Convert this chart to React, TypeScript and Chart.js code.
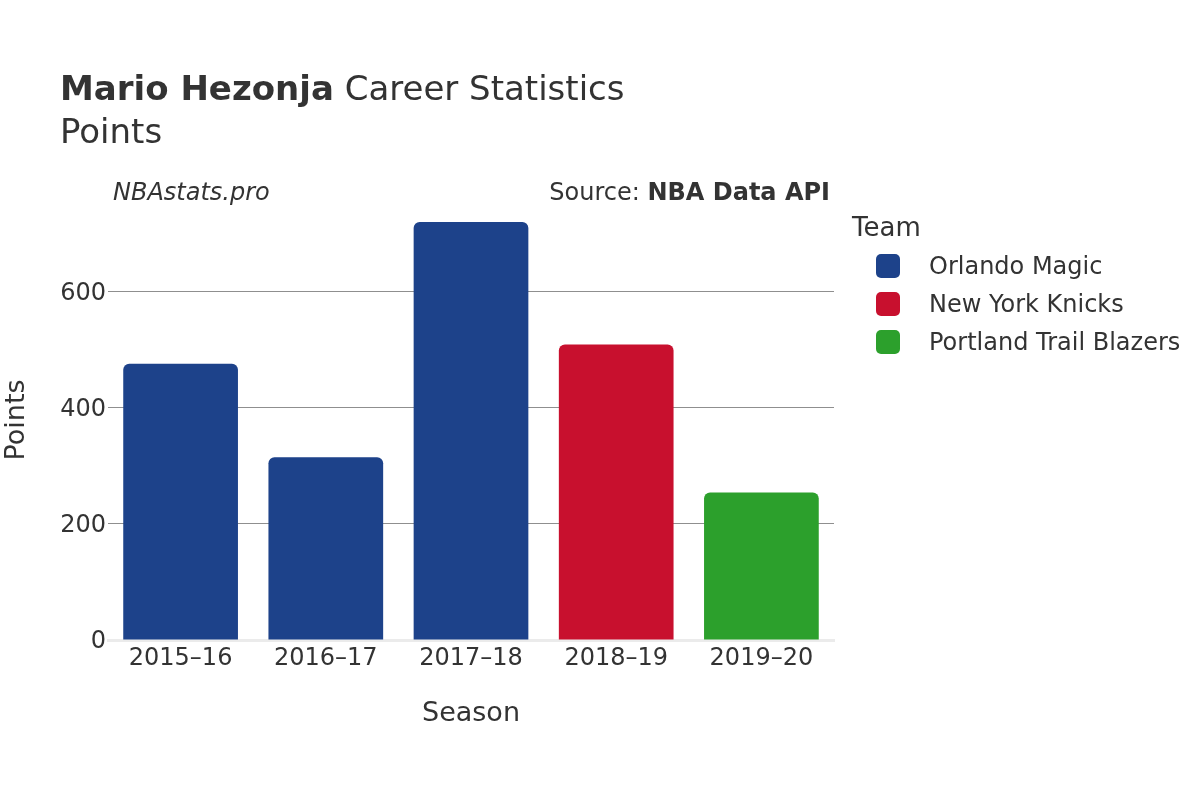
import React, { useEffect, useRef } from "react";
import { Chart, registerables } from "chart.js";

Chart.register(...registerables);

const seasons = ["2015–16", "2016–17", "2017–18", "2018–19", "2019–20"];
const points = [476, 315, 720, 509, 254];
const seasonTeams = ["Orlando Magic", "Orlando Magic", "Orlando Magic", "New York Knicks", "Portland Trail Blazers"];
const teams = ["Orlando Magic", "New York Knicks", "Portland Trail Blazers"];
const teamColors = ["#1d428a", "#c8102e", "#2ca02c"];
const yTicks = [0, 200, 400, 600];
const yMax = 758;

const FONT = "'DejaVu Sans', sans-serif";
const TEXT = "#333333";

export default function App() {
  const ref = useRef<HTMLCanvasElement | null>(null);

  useEffect(() => {
    const colorOf = (t: string) => teamColors[teams.indexOf(t)];
    const chart = new Chart(ref.current as HTMLCanvasElement, {
      type: "bar",
      data: {
        labels: seasons,
        datasets: [
          {
            label: "Points",
            data: points,
            backgroundColor: seasonTeams.map(colorOf),
            borderWidth: 0,
            borderRadius: 6,
            borderSkipped: "start",
            barPercentage: 0.79,
            categoryPercentage: 1,
          },
        ],
      },
      options: {
        responsive: false,
        animation: false,
        layout: { padding: { left: 0, top: 200, right: 366, bottom: 0 } },
        plugins: { legend: { display: false }, tooltip: { enabled: false } },
        scales: {
          x: {
            grid: { display: false },
            border: { display: true, color: "#ebebeb", width: 3 },
            ticks: { color: TEXT, font: { family: FONT, size: 24 }, padding: -4 },
            title: {
              display: true,
              text: "Season",
              color: TEXT,
              font: { family: FONT, size: 27 },
              padding: { top: 0, bottom: 70 },
            },
            afterFit: (s: any) => {
              s.height = 160;
            },
          },
          y: {
            min: 0,
            max: yMax,
            afterBuildTicks: (s: any) => {
              s.ticks = yTicks.map((v) => ({ value: v }));
            },
            grid: {
              drawTicks: false,
              color: (c: any) => (c.tick && c.tick.value === 0 ? "rgba(0,0,0,0)" : "#8f8f8f"),
              lineWidth: 1,
            },
            border: { display: false },
            ticks: { color: TEXT, font: { family: FONT, size: 24 }, padding: 2, labelOffset: 2 },
            title: {
              display: true,
              text: "Points",
              color: TEXT,
              font: { family: FONT, size: 27 },
              padding: { top: 1, bottom: 0 },
            },
            afterFit: (s: any) => {
              s.width = 108;
            },
          },
        },
      },
    });
    return () => chart.destroy();
  }, []);

  const legendTop = [266, 304, 342];

  return (
    <div
      style={{
        position: "fixed",
        left: 0,
        top: 0,
        width: 1200,
        height: 800,
        background: "#fff",
        fontFamily: FONT,
        color: TEXT,
      }}
    >
      <canvas ref={ref} width={1200} height={800} style={{ position: "absolute", left: 0, top: 0 }} />
      <div style={{ position: "absolute", left: 60, top: 68, height: 40, lineHeight: "40px", fontSize: 34, whiteSpace: "nowrap" }}>
        <b>Mario Hezonja</b> Career Statistics
      </div>
      <div style={{ position: "absolute", left: 60, top: 111, height: 40, lineHeight: "40px", fontSize: 34, whiteSpace: "nowrap" }}>
        Points
      </div>
      <div style={{ position: "absolute", left: 113, top: 177, height: 30, lineHeight: "30px", fontSize: 24, fontStyle: "italic", whiteSpace: "nowrap" }}>
        NBAstats.pro
      </div>
      <div style={{ position: "absolute", right: 1200 - 830, top: 177, height: 30, lineHeight: "30px", fontSize: 24, whiteSpace: "nowrap" }}>
        Source: <b>NBA Data API</b>
      </div>
      <div style={{ position: "absolute", left: 852, top: 211, height: 32, lineHeight: "32px", fontSize: 26, whiteSpace: "nowrap" }}>
        Team
      </div>
      {teams.map((t, i) => (
        <React.Fragment key={t}>
          <div
            style={{
              position: "absolute",
              left: 876,
              top: legendTop[i] - 12,
              width: 24,
              height: 24,
              borderRadius: 5,
              background: teamColors[i],
            }}
          />
          <div style={{ position: "absolute", left: 929, top: legendTop[i] - 15, height: 30, lineHeight: "30px", fontSize: 24, whiteSpace: "nowrap" }}>
            {t}
          </div>
        </React.Fragment>
      ))}
    </div>
  );
}
